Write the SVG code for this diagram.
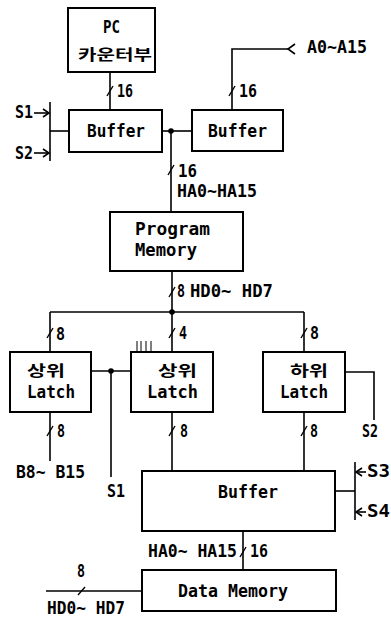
<svg xmlns="http://www.w3.org/2000/svg" width="391" height="619" viewBox="0 0 391 619">
<style>
.box{fill:#fff;stroke:#000;stroke-width:2}
.ln{fill:none;stroke:#000;stroke-width:1.6}
.sl{fill:none;stroke:#000;stroke-width:1.4}
.tk{fill:none;stroke:#000;stroke-width:1}
.t{font-family:"DejaVu Sans Mono","Liberation Mono","Noto Sans CJK KR",monospace;font-size:17px;font-weight:bold;fill:#000}
.k{font-family:"Noto Sans CJK KR","Noto Sans",sans-serif;font-size:15px;font-weight:bold;fill:#000}
</style>
<rect width="391" height="619" fill="#fff"/>
<g id="connectors">
  <!-- PC to left buffer -->
  <line class="ln" x1="110" y1="72" x2="110" y2="110"/>
  <line class="sl" x1="107" y1="96" x2="113" y2="86"/>
  <!-- S1/S2 bar -->
  <line class="ln" x1="50" y1="102" x2="50" y2="161"/>
  <line class="ln" x1="50" y1="131" x2="69" y2="131"/>
  <polyline class="ln" points="34,113 49,113"/>
  <polyline class="ln" points="43,109 49,113 43,117"/>
  <polyline class="ln" points="34,153 49,153"/>
  <polyline class="ln" points="43,149 49,153 43,157"/>
  <!-- buffers link -->
  <line class="ln" x1="162" y1="131" x2="192" y2="131"/>
  <circle cx="171" cy="131" r="2.8" fill="#000"/>
  <!-- right buffer to A0~A15 -->
  <polyline class="ln" points="232,110 232,49 288,49"/>
  <polyline class="ln" points="295,44 288,49 295,54"/>
  <line class="sl" x1="229" y1="96" x2="235" y2="86"/>
  <!-- junction to program memory -->
  <line class="ln" x1="171" y1="131" x2="171" y2="212"/>
  <line class="sl" x1="168" y1="175" x2="174" y2="165"/>
  <!-- program memory to bus -->
  <line class="ln" x1="172" y1="271" x2="172" y2="312"/>
  <line class="sl" x1="169" y1="297" x2="175" y2="287"/>
  <line class="ln" x1="50" y1="312" x2="304" y2="312"/>
  <circle cx="172" cy="312" r="2.8" fill="#000"/>
  <line class="ln" x1="50" y1="312" x2="50" y2="352"/>
  <line class="sl" x1="47" y1="338" x2="53" y2="328"/>
  <line class="ln" x1="172" y1="312" x2="172" y2="352"/>
  <line class="sl" x1="169" y1="338" x2="175" y2="328"/>
  <line class="ln" x1="304" y1="312" x2="304" y2="352"/>
  <line class="sl" x1="301" y1="338" x2="307" y2="328"/>
  <!-- tick marks -->
  <line class="tk" x1="137" y1="341" x2="137" y2="351"/>
  <line class="tk" x1="141" y1="341" x2="141" y2="351"/>
  <line class="tk" x1="146" y1="341" x2="146" y2="351"/>
  <line class="tk" x1="151" y1="341" x2="151" y2="351"/>
  <!-- latch L / M link and S1 -->
  <line class="ln" x1="91" y1="371" x2="131" y2="371"/>
  <circle cx="111" cy="371" r="2.8" fill="#000"/>
  <line class="ln" x1="111" y1="371" x2="111" y2="477"/>
  <!-- right latch to S2 -->
  <polyline class="ln" points="345,372 374,372 374,420"/>
  <!-- latch bottoms -->
  <line class="ln" x1="50" y1="412" x2="50" y2="461"/>
  <line class="sl" x1="47" y1="436" x2="53" y2="426"/>
  <line class="ln" x1="172" y1="412" x2="172" y2="471"/>
  <line class="sl" x1="169" y1="436" x2="175" y2="426"/>
  <line class="ln" x1="304" y1="412" x2="304" y2="471"/>
  <line class="sl" x1="301" y1="436" x2="307" y2="426"/>
  <!-- S3/S4 -->
  <line class="ln" x1="335" y1="491" x2="355" y2="491"/>
  <line class="ln" x1="355" y1="462" x2="355" y2="520"/>
  <line class="ln" x1="356" y1="472" x2="366" y2="472"/>
  <polyline class="ln" points="362,468 356,472 362,476"/>
  <line class="ln" x1="356" y1="512" x2="366" y2="512"/>
  <polyline class="ln" points="362,508 356,512 362,516"/>
  <!-- buffer to data memory -->
  <line class="ln" x1="243" y1="531" x2="243" y2="570"/>
  <line class="sl" x1="240" y1="557" x2="246" y2="547"/>
  <!-- HD0~HD7 to data memory -->
  <line class="ln" x1="46" y1="591" x2="142" y2="591"/>
  <line class="sl" x1="78" y1="595" x2="85" y2="587"/>
  <!-- connector labels -->
  <text class="t" x="117" y="97" textLength="16" lengthAdjust="spacingAndGlyphs">16</text>
  <text class="t" x="15" y="118" textLength="18" lengthAdjust="spacingAndGlyphs">S1</text>
  <text class="t" x="15" y="159" textLength="18" lengthAdjust="spacingAndGlyphs">S2</text>
  <text class="t" x="307" y="53" textLength="60" lengthAdjust="spacingAndGlyphs">A0~A15</text>
  <text class="t" x="239" y="97" textLength="18" lengthAdjust="spacingAndGlyphs">16</text>
  <text class="t" x="178" y="177" textLength="19" lengthAdjust="spacingAndGlyphs">16</text>
  <text class="t" x="177" y="197" textLength="80" lengthAdjust="spacingAndGlyphs">HA0~HA15</text>
  <text class="t" x="177" y="297" textLength="8" lengthAdjust="spacingAndGlyphs">8</text>
  <text class="t" x="190" y="297" textLength="83" lengthAdjust="spacingAndGlyphs">HD0~ HD7</text>
  <text class="t" x="56" y="340" textLength="9" lengthAdjust="spacingAndGlyphs">8</text>
  <text class="t" x="179" y="339" textLength="8" lengthAdjust="spacingAndGlyphs">4</text>
  <text class="t" x="310" y="339" textLength="9" lengthAdjust="spacingAndGlyphs">8</text>
  <text class="t" x="362" y="437" textLength="16" lengthAdjust="spacingAndGlyphs">S2</text>
  <text class="t" x="57" y="437" textLength="8" lengthAdjust="spacingAndGlyphs">8</text>
  <text class="t" x="180" y="437" textLength="8" lengthAdjust="spacingAndGlyphs">8</text>
  <text class="t" x="310" y="437" textLength="8" lengthAdjust="spacingAndGlyphs">8</text>
  <text class="t" x="16" y="478" textLength="69" lengthAdjust="spacingAndGlyphs">B8~ B15</text>
  <text class="t" x="107" y="497" textLength="18" lengthAdjust="spacingAndGlyphs">S1</text>
  <text class="t" x="367" y="477" textLength="23" lengthAdjust="spacingAndGlyphs">S3</text>
  <text class="t" x="367" y="517" textLength="23" lengthAdjust="spacingAndGlyphs">S4</text>
  <text class="t" x="148" y="557" textLength="89" lengthAdjust="spacingAndGlyphs">HA0~ HA15</text>
  <text class="t" x="250" y="557" textLength="18" lengthAdjust="spacingAndGlyphs">16</text>
  <text class="t" x="77" y="577" textLength="8" lengthAdjust="spacingAndGlyphs">8</text>
  <text class="t" x="47" y="614" textLength="78" lengthAdjust="spacingAndGlyphs">HD0~ HD7</text>
</g>
<g id="pc">
  <rect class="box" x="68" y="8" width="87" height="64"/>
  <text class="t" x="103" y="33" textLength="17" lengthAdjust="spacingAndGlyphs">PC</text>
  <text class="k" x="78" y="60" textLength="74" lengthAdjust="spacingAndGlyphs">카운터부</text>
</g>
<g id="buffer-left">
  <rect class="box" x="69" y="110" width="93" height="42"/>
  <text class="t" x="87" y="137" textLength="58" lengthAdjust="spacingAndGlyphs">Buffer</text>
</g>
<g id="buffer-right">
  <rect class="box" x="192" y="110" width="91" height="41"/>
  <text class="t" x="208" y="137" textLength="59" lengthAdjust="spacingAndGlyphs">Buffer</text>
</g>
<g id="program-memory">
  <rect class="box" x="110" y="212" width="133" height="59"/>
  <text class="t" x="135" y="235" textLength="75" lengthAdjust="spacingAndGlyphs">Program</text>
  <text class="t" x="135" y="256" textLength="62" lengthAdjust="spacingAndGlyphs">Memory</text>
</g>
<g id="latch-left">
  <rect class="box" x="10" y="352" width="81" height="60"/>
  <text class="k" x="27" y="376" textLength="38" lengthAdjust="spacingAndGlyphs">상위</text>
  <text class="t" x="27" y="398" textLength="48" lengthAdjust="spacingAndGlyphs">Latch</text>
</g>
<g id="latch-middle">
  <rect class="box" x="131" y="352" width="82" height="60"/>
  <text class="k" x="158" y="376" textLength="39" lengthAdjust="spacingAndGlyphs">상위</text>
  <text class="t" x="147" y="398" textLength="51" lengthAdjust="spacingAndGlyphs">Latch</text>
</g>
<g id="latch-right">
  <rect class="box" x="263" y="352" width="82" height="60"/>
  <text class="k" x="290" y="376" textLength="38" lengthAdjust="spacingAndGlyphs">하위</text>
  <text class="t" x="280" y="398" textLength="48" lengthAdjust="spacingAndGlyphs">Latch</text>
</g>
<g id="buffer-main">
  <rect class="box" x="142" y="471" width="193" height="60"/>
  <text class="t" x="218" y="498" textLength="60" lengthAdjust="spacingAndGlyphs">Buffer</text>
</g>
<g id="data-memory">
  <rect class="box" x="142" y="570" width="194" height="41"/>
  <text class="t" x="178" y="597" textLength="110" lengthAdjust="spacingAndGlyphs">Data Memory</text>
</g>
</svg>
